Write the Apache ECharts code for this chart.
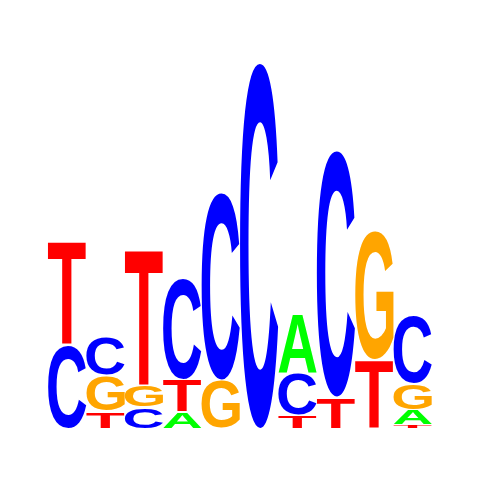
<!DOCTYPE html>
<html>
<head>
    <meta charset="utf-8">
    <title>Sequence logo</title>
    <script src="https://cdn.jsdelivr.net/npm/echarts@6/dist/echarts.min.js"></script>
</head>
<body style="margin:0;background:#fff">
    <div id="box" style="width: 480px;height: 480px;"></div>
    <script>
        // positions of the motif
        var positions = [1, 2, 3, 4, 5, 6, 7, 8, 9, 10];
        // letters at each position, stacked bottom -> top
        var letters = [
            ['C', 'T'],
            ['T', 'G', 'C'],
            ['C', 'G', 'T'],
            ['A', 'T', 'C'],
            ['G', 'C'],
            ['C'],
            ['T', 'C', 'A'],
            ['T', 'C'],
            ['T', 'G'],
            ['T', 'A', 'G', 'C']
        ];
        // letter heights in bits, same order as letters
        var heights = [
            [0.432, 0.547],
            [0.084, 0.189, 0.200],
            [0.105, 0.121, 0.716],
            [0.079, 0.168, 0.537],
            [0.247, 0.989],
            [1.921],
            [0.063, 0.221, 0.316],
            [0.158, 1.300],
            [0.358, 0.679],
            [0.012, 0.079, 0.137, 0.358]
        ];
        var alphabet = ['A', 'C', 'G', 'T'];
        var letterColors = {A: '#00FF00', C: '#0000FF', G: '#FFA500', T: '#FF0000'};

        var FONT = 'bold 100px "Liberation Sans"';

        // measure the ink box of every letter so it can be stretched to its cell
        var ink = {};
        var cv = document.createElement('canvas');
        var ctx = cv.getContext('2d');
        ctx.font = FONT;
        ctx.textBaseline = 'middle';
        ctx.textAlign = 'left';
        alphabet.forEach(function (l) {
            var m = ctx.measureText(l);
            ink[l] = {
                left: m.actualBoundingBoxLeft,
                top: m.actualBoundingBoxAscent,
                w: m.actualBoundingBoxLeft + m.actualBoundingBoxRight,
                h: m.actualBoundingBoxAscent + m.actualBoundingBoxDescent
            };
        });

        var data = [];
        positions.forEach(function (p, i) {
            var base = 0;
            letters[i].forEach(function (l, j) {
                var h = heights[i][j];
                data.push([p, base, base + h, alphabet.indexOf(l)]);
                base += h;
            });
        });

        function renderLetter(params, api) {
            var x = api.value(0);
            var l = alphabet[api.value(3)];
            var p0 = api.coord([x - 0.5, api.value(2)]);
            var p1 = api.coord([x + 0.5, api.value(1)]);
            // small gap under letters that sit on another letter
            var gap = api.value(1) > 0 ? 1.5 : 0;
            var W = p1[0] - p0[0], H = p1[1] - p0[1] - gap;
            if (H < 0.5) H = 0.5;
            var m = ink[l];
            var sx = W / m.w, sy = H / m.h;
            return {
                type: 'text',
                x: p0[0] + m.left * sx,
                y: p0[1] + m.top * sy,
                scaleX: sx,
                scaleY: sy,
                silent: true,
                style: {
                    text: l,
                    x: 0,
                    y: 0,
                    font: FONT,
                    fill: letterColors[l],
                    align: 'left',
                    verticalAlign: 'middle'
                }
            };
        }

        var myChart = echarts.init(document.getElementById('box'));
        var option = {
            animation: false,
            backgroundColor: '#fff',
            grid: {left: 48, right: 48, top: 48, bottom: 52},
            xAxis: {type: 'value', min: 0.5, max: 10.5, show: false},
            yAxis: {type: 'value', min: 0, max: 2, show: false},
            series: [{
                type: 'custom',
                renderItem: renderLetter,
                data: data
            }]
        };
        myChart.setOption(option);
    </script>
</body>
</html>
